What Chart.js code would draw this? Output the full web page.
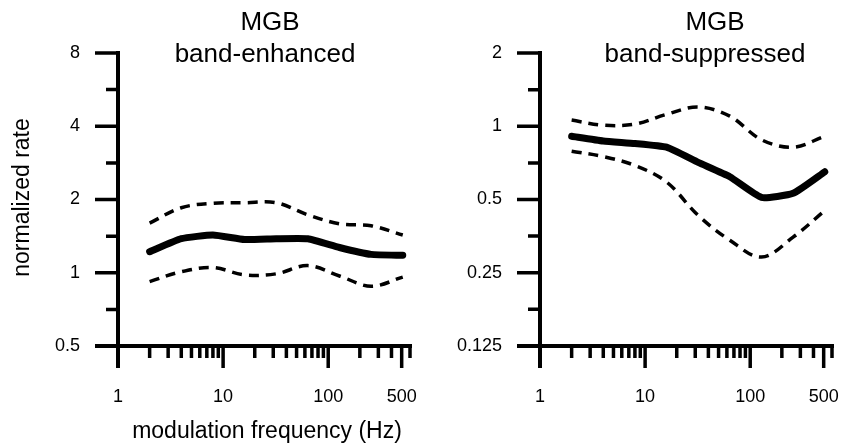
<!DOCTYPE html>
<html>
<head>
<meta charset="utf-8">
<script src="https://cdn.jsdelivr.net/npm/chart.js@4"></script>
<style>
	html, body { margin: 0; padding: 0; background: #fff; }
	#wrap { position: relative; width: 844px; height: 446px; }
	.panel { position: absolute; top: 0; height: 446px; }
</style>
</head>
<body>
<div id="wrap">
	<div class="panel" style="left:0;width:420px"><canvas id="enhanced"></canvas></div>
	<div class="panel" style="left:420px;width:424px"><canvas id="suppressed"></canvas></div>
</div>
<script>
// модуляционные частоты (Гц)
const freqs = [2, 4, 8, 16, 32, 64, 128, 256, 512]

// band-enhanced
const enhancedMean = [1.22, 1.38, 1.43, 1.37, 1.38, 1.38, 1.27, 1.19, 1.18]
const enhancedUpper = [1.6, 1.85, 1.93, 1.94, 1.94, 1.73, 1.59, 1.56, 1.43]
const enhancedLower = [0.92, 1.01, 1.05, 0.98, 0.99, 1.07, 0.97, 0.88, 0.96]

// band-suppressed
const suppressedMean = [0.91, 0.87, 0.85, 0.82, 0.71, 0.62, 0.51, 0.53, 0.65]
const suppressedUpper = [1.06, 1.01, 1.02, 1.12, 1.2, 1.1, 0.88, 0.82, 0.91]
const suppressedLower = [0.79, 0.75, 0.69, 0.59, 0.43, 0.34, 0.29, 0.35, 0.45]

// деления осей
const xMajorTicks = [1, 10, 100, 500]
const xMinorTicks = [2, 3, 4, 5, 6, 7, 8, 9, 20, 30, 40, 50, 60, 70, 80, 90, 200, 300, 400, 600]
const enhancedYTicks = [0.5, 1, 2, 4, 8]
const enhancedYMinor = [0.707, 1.414, 2.828, 5.657]
const suppressedYTicks = [0.125, 0.25, 0.5, 1, 2]
const suppressedYMinor = [0.177, 0.354, 0.707, 1.414]

const FONT = "'Liberation Sans', Arial, sans-serif"

const axesPlugin = {
	id: 'axes',
	afterDraw(chart, args, opts) {
		const ctx = chart.ctx
		const xs = chart.scales.x
		const ys = chart.scales.y
		const x0 = xs.getPixelForValue(1)
		const yb = ys.bottom
		const yt = ys.top

		ctx.save()
		ctx.strokeStyle = '#000'
		ctx.fillStyle = '#000'
		ctx.lineCap = 'butt'

		// оси
		ctx.lineWidth = 4
		ctx.beginPath()
		ctx.moveTo(x0, yt - 2)
		ctx.lineTo(x0, yb + 22)
		ctx.moveTo(x0 - 23, yb)
		ctx.lineTo(xs.right + 2, yb)
		ctx.stroke()

		// деления Y
		ctx.lineWidth = 3.5
		ctx.beginPath()
		opts.yTicks.forEach(v => {
			const p = ys.getPixelForValue(v)
			ctx.moveTo(x0 - 23, p)
			ctx.lineTo(x0, p)
		})
		opts.yMinor.forEach(v => {
			const p = ys.getPixelForValue(v)
			ctx.moveTo(x0 - 12, p)
			ctx.lineTo(x0, p)
		})
		// деления X
		xMajorTicks.forEach(v => {
			const p = xs.getPixelForValue(v)
			ctx.moveTo(p, yb)
			ctx.lineTo(p, yb + 22)
		})
		xMinorTicks.forEach(v => {
			const p = xs.getPixelForValue(v)
			ctx.moveTo(p, yb)
			ctx.lineTo(p, yb + 12)
		})
		ctx.stroke()

		// подписи делений
		ctx.font = '18px ' + FONT
		ctx.textBaseline = 'middle'
		ctx.textAlign = 'right'
		opts.yTicks.forEach(v => {
			ctx.fillText(String(v), x0 - 38, ys.getPixelForValue(v))
		})
		ctx.textAlign = 'center'
		xMajorTicks.forEach(v => {
			ctx.fillText(String(v), xs.getPixelForValue(v), yb + 51)
		})

		// заголовок
		ctx.font = '26px ' + FONT
		ctx.fillText(opts.title[0], opts.titleX[0], 23)
		ctx.fillText(opts.title[1], opts.titleX[1], 55)

		// подписи осей
		if (opts.showAxisTitles) {
			ctx.font = '23px ' + FONT
			ctx.fillText('modulation frequency (Hz)', (xs.left + xs.right) / 2 + 3, 432)
			ctx.save()
			ctx.translate(23, (yt + yb) / 2 - 2)
			ctx.rotate(-Math.PI / 2)
			ctx.fillText('normalized rate', 0, 0)
			ctx.restore()
		}
		ctx.restore()
	},
}

function toPoints(values) {
	return freqs.map((f, i) => ({ x: f, y: values[i] }))
}

function makeChart(id, cfg) {
	const dashed = {
		borderColor: '#000',
		borderWidth: 3.5,
		borderDash: [10, 7],
		tension: 0.35,
		pointRadius: 0,
		fill: false,
	}
	return new Chart(document.getElementById(id), {
		type: 'line',
		data: {
			datasets: [
				{ ...dashed, data: toPoints(cfg.upper) },
				{ ...dashed, data: toPoints(cfg.lower) },
				{
					data: toPoints(cfg.mean),
					borderColor: '#000',
					borderWidth: 7,
					tension: 0.15,
					pointRadius: 0,
					borderCapStyle: 'round',
					borderJoinStyle: 'round',
					fill: false,
				},
			],
		},
		options: {
			responsive: true,
			maintainAspectRatio: false,
			animation: false,
			layout: { padding: cfg.padding },
			scales: {
				x: { type: 'logarithmic', min: 1, max: 600, display: false },
				y: { type: 'logarithmic', min: cfg.yTicks[0], max: cfg.yTicks[cfg.yTicks.length - 1], display: false },
			},
			plugins: {
				legend: { display: false },
				tooltip: { enabled: false },
				axes: {
					yTicks: cfg.yTicks,
					yMinor: cfg.yMinor,
					title: cfg.title,
					titleX: cfg.titleX,
					showAxisTitles: cfg.showAxisTitles,
				},
			},
		},
		plugins: [axesPlugin],
	})
}

makeChart('enhanced', {
	mean: enhancedMean,
	upper: enhancedUpper,
	lower: enhancedLower,
	yTicks: enhancedYTicks,
	yMinor: enhancedYMinor,
	title: ['MGB', 'band-enhanced'],
	titleX: [270, 265],
	showAxisTitles: true,
	padding: { left: 118, right: 10, top: 53, bottom: 100 },
})

makeChart('suppressed', {
	mean: suppressedMean,
	upper: suppressedUpper,
	lower: suppressedLower,
	yTicks: suppressedYTicks,
	yMinor: suppressedYMinor,
	title: ['MGB', 'band-suppressed'],
	titleX: [295, 285],
	showAxisTitles: false,
	padding: { left: 120, right: 12, top: 53, bottom: 100 },
})
</script>
</body>
</html>
